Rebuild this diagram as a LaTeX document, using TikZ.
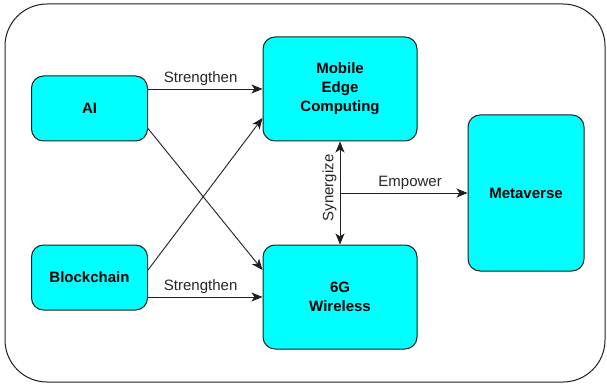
\documentclass[tikz,border=0pt]{standalone}
\usepackage{fontspec}
\setsansfont{Liberation Sans}
\usepackage{tikz}
\usetikzlibrary{arrows.meta,positioning}
\definecolor{boxcyan}{RGB}{0,255,255}
\definecolor{edgegray}{RGB}{30,30,30}

\begin{document}
\begin{tikzpicture}[
    x=1pt, y=-1pt,
    blk/.style={rectangle, draw=edgegray, fill=boxcyan, rounded corners=12pt, line width=1pt, font=\fontsize{15}{19}\selectfont\sffamily\bfseries, align=center, inner sep=2pt},
    frm/.style={rectangle, draw=edgegray, rounded corners=42pt, line width=1pt},
    lbl/.style={font=\fontsize{15}{18}\selectfont\sffamily, text=black!85, inner sep=2pt},
    arrow/.style={-{Stealth[length=11pt, width=9pt, inset=3pt]}, line width=0.9pt, draw=edgegray},
    darrow/.style={{Stealth[length=11pt, width=9pt, inset=3pt]}-{Stealth[length=11pt, width=9pt, inset=3pt]}, line width=0.9pt, draw=edgegray}
]
\useasboundingbox (0,0) rectangle (607,387);

% === FRAME ===
\node[frm, minimum width=600pt, minimum height=378pt] (frame) at (305,193) {};

% === SOURCES (left) ===
\node[blk, minimum width=116pt, minimum height=65pt] (ai) at (89.5,108.5) {AI};
\node[blk, minimum width=116pt, minimum height=65pt] (chain) at (89.5,277.5) {Blockchain};

% === ENABLERS (center) ===
\node[blk, minimum width=154pt, minimum height=104pt] (mec) at (340,89) {Mobile\\Edge\\Computing};
\node[blk, minimum width=154pt, minimum height=104pt] (wireless) at (340,297) {6G\\Wireless};

% === TARGET (right) ===
\node[blk, minimum width=116pt, minimum height=156pt] (meta) at (526,193) {Metaverse};

\coordinate (hub) at (mec.south |- meta.west);

% === ARROWS ===
\draw[arrow] (ai.east |- mec.west) -- node[lbl, above=1pt, pos=0.46] (s1) {Strengthen} (mec.west);
\draw[arrow] (chain.east |- wireless.west) -- node[lbl, above=1pt, pos=0.46] (s2) {Strengthen} (wireless.west);

\draw[arrow] ([yshift=-20pt]ai.east) -- ([yshift=27pt]wireless.west);
\draw[arrow] ([yshift=7.5pt]chain.east) -- ([yshift=-29pt]mec.west);

\draw[darrow] (wireless.north) -- node[lbl, sloped, above=1pt, pos=0.55] (syn) {Synergize} (mec.south);
\draw[arrow] (hub) -- node[lbl, above=1pt, pos=0.55] (emp) {Empower} (meta.west);

\end{tikzpicture}
\end{document}
